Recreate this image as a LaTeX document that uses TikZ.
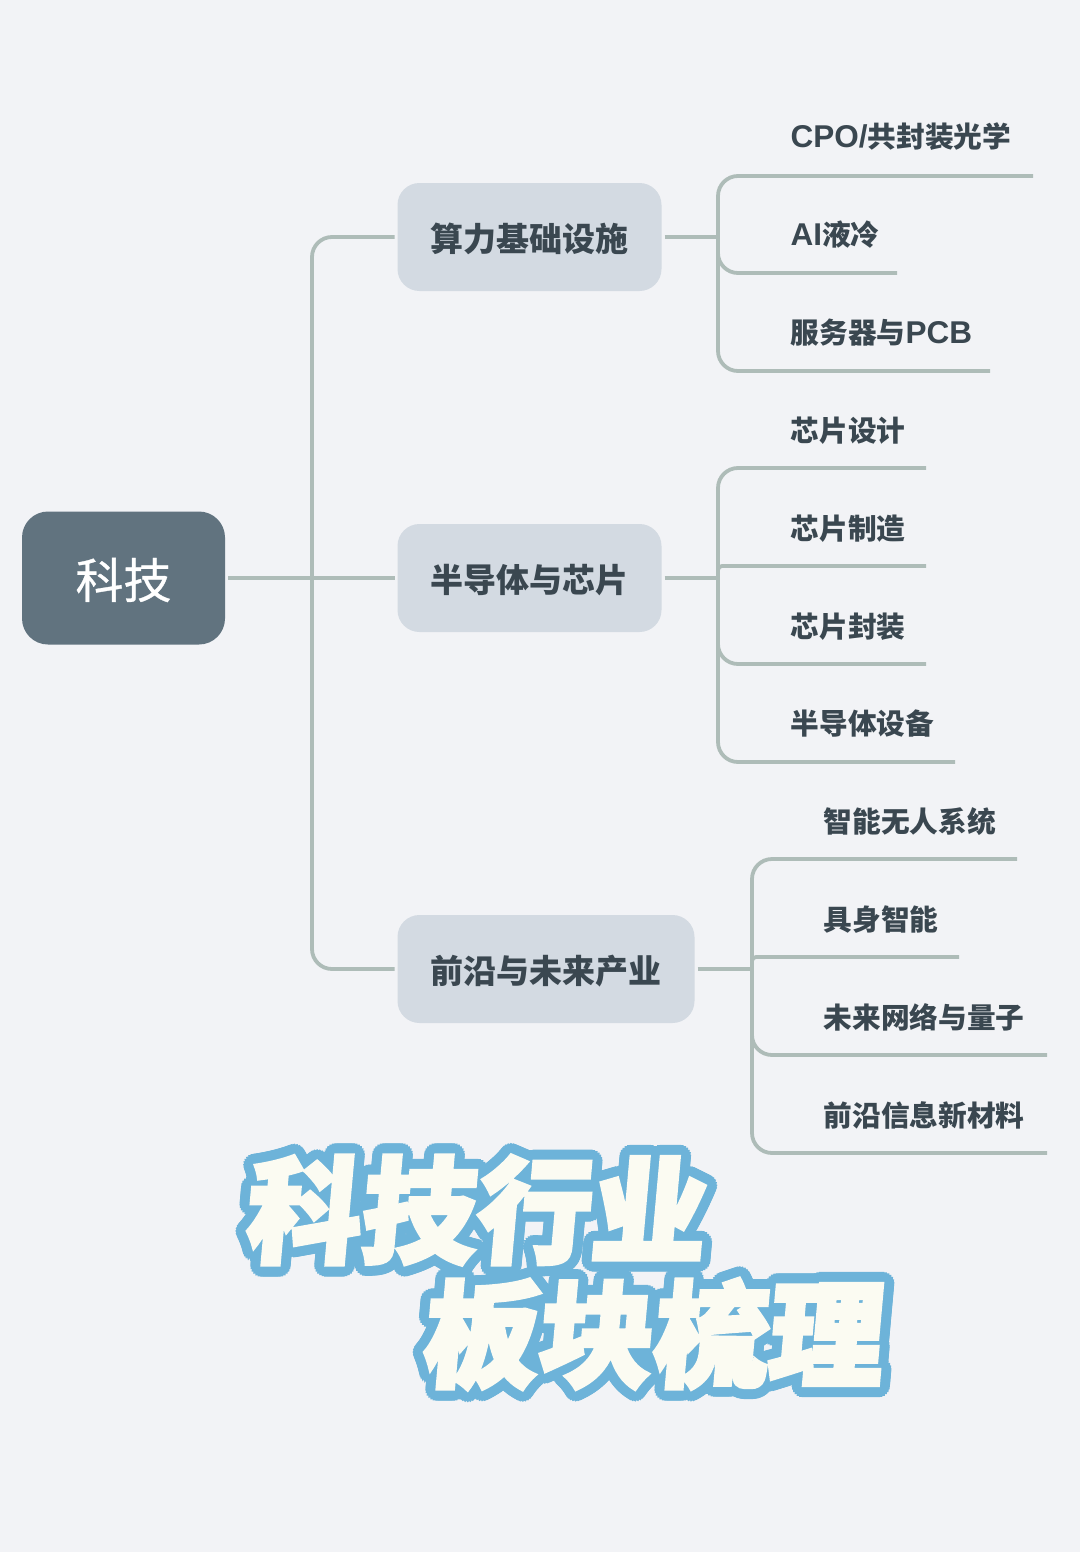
\documentclass[tikz,border=0pt]{standalone}
\usepackage{fontspec}
\newfontfamily\cjkfont{Noto Sans CJK SC}
\newfontfamily\rootfont[FakeBold=0.6]{Noto Sans CJK SC}
\newfontfamily\latfont{Liberation Sans}
\newfontfamily\titlefont[BoldFeatures={FakeSlant=0.09,FakeBold=3.5}]{Noto Sans CJK SC}
\newcommand{\lat}[1]{{\latfont\bfseries\fontsize{31.5}{29}\selectfont #1}}
\newcommand{\lowered}[2]{\raisebox{-#1}[\height][\depth]{#2}}
\definecolor{pagebg}{HTML}{F2F3F6}
\definecolor{rootfill}{HTML}{61737F}
\definecolor{branchfill}{HTML}{D3DAE2}
\definecolor{linecol}{HTML}{AEBCB8}
\definecolor{inkcol}{HTML}{3A4750}
\definecolor{titleblue}{HTML}{6DB3D9}
\definecolor{titlecream}{HTML}{FBFBF2}
\tikzset{
  conn/.style={draw=linecol, line width=3.8pt, rounded corners=20pt},
  rootbox/.style={fill=rootfill, text=white, rounded corners=26pt, minimum width=203pt,
    minimum height=133pt, outer sep=3pt, font=\rootfont\fontsize{48}{48}\selectfont},
  branchbox/.style={fill=branchfill, text=inkcol, rounded corners=22pt, minimum height=108pt,
    outer sep=3pt, font=\cjkfont\bfseries\fontsize{33}{33}\selectfont},
  leaf/.style={anchor=west, inner sep=0pt, text=inkcol, font=\cjkfont\bfseries\fontsize{28.7}{29}\selectfont},
  titleback/.style={text=titleblue, inner sep=0pt, font=\titlefont\bfseries\fontsize{115}{115}\selectfont},
  titlefront/.style={text=titlecream, inner sep=0pt, font=\titlefont\bfseries\fontsize{115}{115}\selectfont},
}
\begin{document}
\begin{tikzpicture}[x=1pt, y=-1pt]
  \fill[pagebg] (0,0) rectangle (1080,1552);
  \useasboundingbox (0,0) rectangle (1080,1552);

  \node[rootbox] (root) at (123.5,578) {\lowered{2pt}{科技}};
  \node[branchbox, minimum width=264pt] (infra) at (529.5,237) {\lowered{1.5pt}{算力基础设施}};
  \node[branchbox, minimum width=264pt] (chip) at (529.5,578) {\lowered{2pt}{半导体与芯片}};
  \node[branchbox, minimum width=297pt] (future) at (546,969) {\lowered{2pt}{前沿与未来产业}};

  % leaves
  \node[leaf] (cpo) at (790.5,137) {\lat{CPO/}共封装光学};
  \node[leaf] (cool) at (790.5,235) {\lat{AI}液冷};
  \node[leaf] (server) at (790.5,333) {服务器与\lat{PCB}};
  \node[leaf] (design) at (790.5,431) {芯片设计};
  \node[leaf] (fab) at (790.5,529) {芯片制造};
  \node[leaf] (pack) at (790.5,627) {芯片封装};
  \node[leaf] (equip) at (790.5,724) {半导体设备};
  \node[leaf] (drone) at (823.5,822) {智能无人系统};
  \node[leaf] (robot) at (823.5,920) {具身智能};
  \node[leaf] (net) at (823.5,1017) {未来网络与量子};
  \node[leaf] (mat) at (823.5,1115) {前沿信息新材料};

  % joints and line ends
  \coordinate (rootjoin) at (312,578);
  \coordinate (infrajoin) at (718,237);
  \coordinate (chipjoin) at (718,578);
  \coordinate (futurejoin) at (752,969);
  \coordinate (cpoend) at (1033,176);
  \coordinate (coolend) at (897,273);
  \coordinate (serverend) at (990,371);
  \coordinate (designend) at (926,468);
  \coordinate (fabend) at (926,566);
  \coordinate (packend) at (926,664);
  \coordinate (equipend) at (955,762);
  \coordinate (droneend) at (1017,859);
  \coordinate (robotend) at (959,957);
  \coordinate (netend) at (1047,1055);
  \coordinate (matend) at (1047,1153);

  \draw[conn] (root.east) -- (chip.west);
  \draw[conn] (rootjoin) |- (infra.west);
  \draw[conn] (rootjoin) |- (future.west);

  \draw[conn] (infra.east) -- (infrajoin);
  \draw[conn] (infrajoin) |- (cpoend);
  \draw[conn] (infrajoin) |- (coolend);
  \draw[conn] (infrajoin) |- (serverend);

  \draw[conn] (chip.east) -- (chipjoin);
  \draw[conn] (chipjoin) |- (designend);
  \draw[conn, rounded corners=4pt] (chipjoin) |- (fabend);
  \draw[conn] (chipjoin) |- (packend);
  \draw[conn] (chipjoin) |- (equipend);

  \draw[conn] (future.east) -- (futurejoin);
  \draw[conn] (futurejoin) |- (droneend);
  \draw[conn, rounded corners=4pt] (futurejoin) |- (robotend);
  \draw[conn] (futurejoin) |- (netend);
  \draw[conn] (futurejoin) |- (matend);

  % title, outline first
  \foreach \a in {0,15,...,345} {
    \node[titleback, shift={(\a:10)}] at (474,1210) {科技行业};
    \node[titleback, shift={(\a:10)}] at (651,1334) {板块梳理};
  }
  \node[titlefront] (titleup) at (474,1210) {科技行业};
  \node[titlefront] (titledown) at (651,1334) {板块梳理};
\end{tikzpicture}
\end{document}
